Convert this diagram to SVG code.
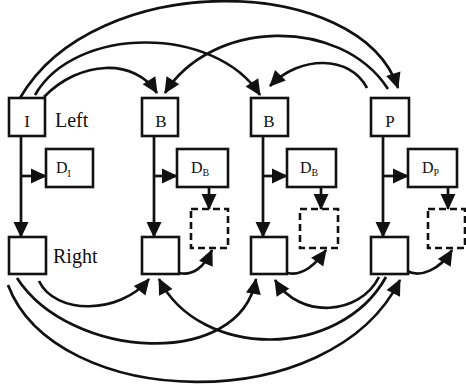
<svg xmlns="http://www.w3.org/2000/svg" width="466" height="392" viewBox="0 0 466 392">
  <defs>
    <style>
      .box { fill: #fff; stroke: #111; stroke-width: 2.6; }
      .dash { fill: none; stroke: #111; stroke-width: 2.6; stroke-dasharray: 7 4; }
      .edge { fill: none; stroke: #111; stroke-width: 2.7; marker-end: url(#ah); }
      .lbl { font-family: "Liberation Serif", "Times New Roman", serif; fill: #111; }
      .big { font-size: 20px; }
      .mid { font-size: 17px; }
      .d { font-size: 16px; }
      .sub { font-size: 10px; }
    </style>
    <marker id="ah" markerUnits="userSpaceOnUse" markerWidth="17" markerHeight="16" refX="15" refY="7.5" orient="auto" overflow="visible">
      <path d="M0,0 L16,7.5 L0,15 z" fill="#111"/>
    </marker>
  </defs>
  <rect width="466" height="392" fill="#fff"/>

  <!-- connectors -->
  <g id="connectors">
    <!-- vertical Left -> Right chains -->
    <path class="edge" d="M21,136 V237"/>
    <path class="edge" d="M154,136 V237"/>
    <path class="edge" d="M263,136 V237"/>
    <path class="edge" d="M383,136 V237"/>
    <!-- branches to D boxes -->
    <path class="edge" d="M21,176 H46"/>
    <path class="edge" d="M154,176 H177"/>
    <path class="edge" d="M263,176 H287"/>
    <path class="edge" d="M383,176 H408"/>
    <!-- D boxes down to dashed boxes -->
    <path class="edge" d="M209,187 V209"/>
    <path class="edge" d="M321,187 V209"/>
    <path class="edge" d="M448,187 V209"/>
    <!-- right boxes up to dashed boxes -->
    <path class="edge" d="M179,273 C192,276 204,268 212,250"/>
    <path class="edge" d="M288,273 C301,276 313,268 326,250"/>
    <path class="edge" d="M407,271 C420,278 440,270 452,250"/>
    <!-- top arcs -->
    <path class="edge" d="M44,97 C80,60 135,58 157,93"/>
    <path class="edge" d="M35,95 C75,25 215,25 260,95"/>
    <path class="edge" d="M20,98 C95,-32 360,-27 398,88"/>
    <path class="edge" d="M388,89 C340,15 210,20 165,93"/>
    <path class="edge" d="M367,88 C350,55 300,55 270,86"/>
    <!-- bottom arcs -->
    <path class="edge" d="M39,281 C55,315 120,315 149,279"/>
    <path class="edge" d="M17,278 C70,360 240,370 256,279"/>
    <path class="edge" d="M8,285 C55,410 330,420 400,280"/>
    <path class="edge" d="M386,277 C340,360 200,360 159,279"/>
    <path class="edge" d="M379,277 C360,315 300,320 275,280"/>
  </g>

  <!-- I column -->
  <g id="nodeI">
    <rect class="box" x="9" y="98" width="36" height="38"/>
    <text class="lbl mid" x="27" y="127" text-anchor="middle">I</text>
  </g>
  <g id="labelLeft"><text class="lbl big" x="55" y="127">Left</text></g>
  <g id="nodeDI">
    <rect class="box" x="46" y="149" width="47" height="38"/>
    <text class="lbl d" x="56" y="173">D<tspan class="sub" dy="4">I</tspan></text>
  </g>
  <g id="nodeIR">
    <rect class="box" x="9" y="237" width="37" height="37"/>
  </g>
  <g id="labelRight"><text class="lbl big" x="53" y="263">Right</text></g>

  <!-- first B column -->
  <g id="nodeB1">
    <rect class="box" x="142" y="98" width="36" height="38"/>
    <text class="lbl mid" x="161" y="127" text-anchor="middle">B</text>
  </g>
  <g id="nodeDB1">
    <rect class="box" x="177" y="149" width="51" height="38"/>
    <text class="lbl d" x="191" y="173">D<tspan class="sub" dy="3">B</tspan></text>
  </g>
  <g id="nodeB1X"><rect class="dash" x="191" y="209" width="37" height="39"/></g>
  <g id="nodeB1R"><rect class="box" x="142" y="237" width="37" height="37"/></g>

  <!-- second B column -->
  <g id="nodeB2">
    <rect class="box" x="251" y="98" width="37" height="38"/>
    <text class="lbl mid" x="269" y="127" text-anchor="middle">B</text>
  </g>
  <g id="nodeDB2">
    <rect class="box" x="287" y="149" width="49" height="38"/>
    <text class="lbl d" x="300" y="173">D<tspan class="sub" dy="3">B</tspan></text>
  </g>
  <g id="nodeB2X"><rect class="dash" x="300" y="209" width="38" height="39"/></g>
  <g id="nodeB2R"><rect class="box" x="251" y="237" width="36" height="37"/></g>

  <!-- P column -->
  <g id="nodeP">
    <rect class="box" x="371" y="98" width="38" height="38"/>
    <text class="lbl mid" x="390" y="127" text-anchor="middle">P</text>
  </g>
  <g id="nodeDP">
    <rect class="box" x="408" y="149" width="49" height="38"/>
    <text class="lbl d" x="422" y="173">D<tspan class="sub" dy="3">P</tspan></text>
  </g>
  <g id="nodePX"><rect class="dash" x="428" y="209" width="37" height="39"/></g>
  <g id="nodePR"><rect class="box" x="371" y="237" width="37" height="37"/></g>
</svg>
